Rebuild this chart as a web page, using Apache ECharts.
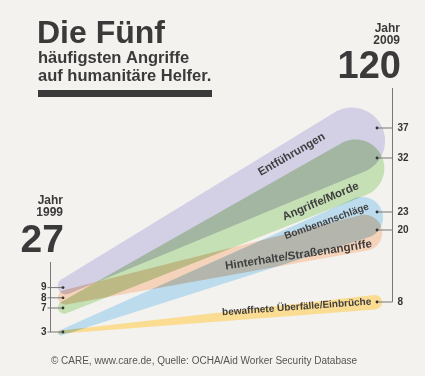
<!DOCTYPE html>
<html>
<head>
<meta charset="utf-8">
<script src="https://cdn.jsdelivr.net/npm/echarts@6/dist/echarts.min.js"></script>
<style>
html, body { margin: 0; padding: 0; background: #f4f2ee; }
#main { width: 425px; height: 376px; }
</style>
</head>
<body>
<div id="main"></div>
<script>
// Daten
var categories = ['Entführungen', 'Angriffe/Morde', 'Bombenanschläge', 'Hinterhalte/Straßenangriffe', 'bewaffnete Überfälle/Einbrüche'];
var values1999 = [9, 7, 3, 8, 0];
var values2009 = [37, 32, 23, 20, 8];
var years = [1999, 2009];

// Stil
var bandColors = ['#d3d0e6', '#c5e0b4', '#bcdcee', '#f5d3bb', '#fadc92'];
var labelPlace = [
    {t: 0.75, d: 15, size: 11.5, rot: 3},
    {t: 0.80, d: -15, size: 11.5, rot: -2.5},
    {t: 0.85, d: 9, size: 10, rot: -1},
    {t: 0.745, d: -8, size: 11.5, rot: -3.5},
    {t: 0.745, d: 2.5, size: 10, rot: -1.3}
];
var FONT = 'Liberation Sans';
var bracketLeftX = 50.5, bracketLeftTop = 262;
var bracketRightX = 392.5, bracketRightTop = 88;

// Ankerpunkte so verschieben, dass sich die Beschriftungen nicht überlappen
function spread(vals, gap) {
    var uniq = vals.filter(function (v) { return v > 0; })
        .filter(function (v, i, arr) { return arr.indexOf(v) === i; })
        .sort(function (a, b) { return a - b; });
    var map = {}, last = -Infinity;
    uniq.forEach(function (v) {
        var p = Math.max(v, last + gap);
        map[v] = p;
        last = p;
    });
    return vals.map(function (v) { return v > 0 ? map[v] : map[uniq[0]]; });
}
var anchor1999 = spread(values1999, 1.7);
var anchor2009 = spread(values2009, 1.7);

var seriesData = categories.map(function (c, i) {
    return [values1999[i], values2009[i], anchor1999[i], anchor2009[i]];
});

function geom(api) {
    var v1 = api.value(0), v2 = api.value(1);
    var a = api.coord([years[0], api.value(2)]);
    var b = api.coord([years[1], api.value(3)]);
    var k = api.size([0, 1])[1] * 0.15;
    var r1 = Math.max(1.5, v1 * k), r2 = Math.max(1.5, v2 * k);
    var dx = b[0] - a[0], dy = b[1] - a[1];
    var len = Math.sqrt(dx * dx + dy * dy);
    return {a: a, b: b, r1: r1, r2: r2, ux: dx / len, uy: dy / len, len: len, v1: v1, v2: v2};
}

function renderBand(params, api) {
    var g = geom(api);
    var e = 5;
    var c1 = [g.a[0] + (g.r1 - e) * g.ux, g.a[1] + (g.r1 - e) * g.uy];
    var c2 = [g.b[0] + (e - g.r2) * g.ux, g.b[1] + (e - g.r2) * g.uy];
    var d = Math.sqrt(Math.pow(c2[0] - c1[0], 2) + Math.pow(c2[1] - c1[1], 2));
    var beta = Math.acos(Math.max(-1, Math.min(1, (g.r1 - g.r2) / d)));
    var au = Math.atan2(g.uy, g.ux);
    var pts = [];
    var n = 40, j, phi;
    for (j = 0; j <= n; j++) {
        phi = beta - (2 * beta) * j / n;
        pts.push([c2[0] + g.r2 * Math.cos(au + phi), c2[1] + g.r2 * Math.sin(au + phi)]);
    }
    for (j = 0; j <= n; j++) {
        phi = -beta - (2 * Math.PI - 2 * beta) * j / n;
        pts.push([c1[0] + g.r1 * Math.cos(au + phi), c1[1] + g.r1 * Math.sin(au + phi)]);
    }
    return {
        type: 'polygon',
        shape: {points: pts},
        style: {fill: bandColors[params.dataIndex], blend: 'multiply'}
    };
}

function renderMarks(params, api) {
    var g = geom(api);
    var i = params.dataIndex;
    var lp = labelPlace[i];
    var px = g.a[0] + g.ux * g.len * lp.t + g.uy * lp.d;
    var py = g.a[1] + g.uy * g.len * lp.t - g.ux * lp.d;
    var children = [];
    // Bandbeschriftung
    children.push({
        type: 'text',
        x: px, y: py,
        rotation: Math.atan2(-g.uy, g.ux) + lp.rot * Math.PI / 180,
        style: {
            text: categories[i], fill: '#3f3f3f',
            fontSize: lp.size, fontWeight: 'bold', fontFamily: FONT,
            align: 'center', verticalAlign: 'middle'
        }
    });
    // rechts: Punkt, Linie, Wert
    children.push({type: 'line', shape: {x1: g.b[0], y1: g.b[1], x2: bracketRightX, y2: g.b[1]}, style: {stroke: '#777', lineWidth: 1}});
    children.push({type: 'line', shape: {x1: bracketRightX, y1: bracketRightTop, x2: bracketRightX, y2: g.b[1]}, style: {stroke: '#777', lineWidth: 1}});
    children.push({type: 'circle', shape: {cx: g.b[0], cy: g.b[1], r: 1.4}, style: {fill: '#333'}});
    children.push({
        type: 'text', x: bracketRightX + 5, y: g.b[1],
        style: {text: String(g.v2), fill: '#333', fontSize: 10, fontWeight: 'bold', fontFamily: FONT, align: 'left', verticalAlign: 'middle'}
    });
    // links
    if (g.v1 > 0) {
        children.push({type: 'line', shape: {x1: bracketLeftX - 3, y1: g.a[1], x2: g.a[0], y2: g.a[1]}, style: {stroke: '#777', lineWidth: 1}});
        children.push({type: 'line', shape: {x1: bracketLeftX, y1: bracketLeftTop, x2: bracketLeftX, y2: g.a[1]}, style: {stroke: '#777', lineWidth: 1}});
        children.push({type: 'circle', shape: {cx: g.a[0], cy: g.a[1], r: 1.4}, style: {fill: '#333'}});
        children.push({
            type: 'text', x: bracketLeftX - 4, y: g.a[1],
            style: {text: String(g.v1), fill: '#333', fontSize: 10, fontWeight: 'bold', fontFamily: FONT, align: 'right', verticalAlign: 'middle'}
        });
    }
    return {type: 'group', children: children};
}

function sum(arr) { return arr.reduce(function (s, v) { return s + v; }, 0); }

function txt(text, x, y, size, align, weight, color) {
    return {
        type: 'text', x: x, y: y,
        style: {
            text: text, fill: color || '#3a3a3a', fontSize: size, fontWeight: weight || 'bold', fontFamily: FONT,
            align: align || 'left', textAlign: align || 'left', verticalAlign: 'middle', textVerticalAlign: 'middle'
        }
    };
}

var chart = echarts.init(document.getElementById('main'));
chart.setOption({
    backgroundColor: '#f4f2ee',
    animation: false,
    grid: {left: 63, right: 48, top: 50, bottom: 26},
    xAxis: {type: 'value', min: years[0], max: years[1], show: false},
    yAxis: {type: 'value', min: 0, max: 50, show: false},
    graphic: [
        txt('Die Fünf', 37, 34, 32),
        txt('häufigsten Angriffe', 38, 58, 16.5),
        txt('auf humanitäre Helfer.', 38, 76, 16.5),
        {type: 'rect', shape: {x: 38, y: 90, width: 174, height: 7}, style: {fill: '#3a3a3a'}},
        txt('Jahr', 400, 29, 12, 'right'),
        txt(String(years[1]), 400, 41, 12, 'right'),
        txt(String(sum(values2009)), 401, 68, 38, 'right'),
        txt('Jahr', 63, 201, 12, 'right'),
        txt(String(years[0]), 63, 213, 12, 'right'),
        txt(String(sum(values1999)), 64, 241, 39, 'right'),
        txt('© CARE, www.care.de, Quelle: OCHA/Aid Worker Security Database', 204, 361, 10, 'center', 'normal', '#555')
    ],
    series: [
        {type: 'custom', renderItem: renderBand, data: seriesData, z: 1, zlevel: 1, silent: true},
        {type: 'custom', renderItem: renderMarks, data: seriesData, z: 2, zlevel: 2, silent: true}
    ]
});

// Bänder multiplizieren, damit die Überlappungen dunkler werden
var zr = chart.getZr();
zr.storage.getDisplayList(true).forEach(function (el) {
    if (el.type === 'polygon') {
        el.style.blend = 'multiply';
        el.markRedraw();
    }
});
zr.refreshImmediately();
</script>
</body>
</html>
